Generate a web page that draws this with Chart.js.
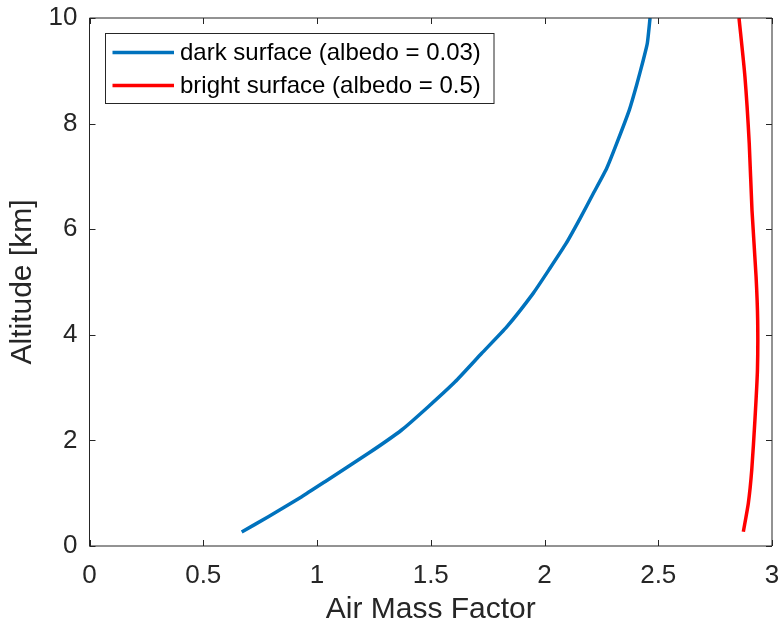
<!DOCTYPE html>
<html>
<head>
<meta charset="utf-8">
<script src="https://cdn.jsdelivr.net/npm/chart.js@4"></script>
<style>
html,body{margin:0;padding:0;background:#fff;}
#wrap{width:781px;height:625px;position:relative;}
</style>
</head>
<body>
<div id="wrap"><canvas id="c" width="781" height="625"></canvas></div>
<script>
// Data
const altDark = [0.265, 0.555, 0.934, 1.218, 1.755, 2.197, 2.638, 3.11, 3.65, 4.15, 4.79, 5.26, 5.73, 6.20, 6.68, 7.15, 7.62, 8.26, 8.73, 9.20, 9.52, 10];
const amfDark = [0.669, 0.786, 0.933, 1.035, 1.226, 1.372, 1.489, 1.607, 1.724, 1.834, 1.951, 2.024, 2.095, 2.156, 2.215, 2.273, 2.317, 2.373, 2.405, 2.434, 2.452, 2.464];
const altBright = [0.27, 0.81, 1.44, 2.39, 3.33, 4.28, 5.10, 6.36, 7.62, 8.89, 10];
const amfBright = [2.874, 2.896, 2.911, 2.925, 2.936, 2.937, 2.930, 2.912, 2.900, 2.881, 2.855];
const seriesLabels = ['dark surface (albedo = 0.03)', 'bright surface (albedo = 0.5)'];
const xTicks = [0, 0.5, 1, 1.5, 2, 2.5, 3];
const yTicks = [0, 2, 4, 6, 8, 10];

const FONT = '"Liberation Sans", Arial, Helvetica, sans-serif';
const AX = '#262626';

function pts(xs, ys){ return xs.map((x,i)=>({x:x, y:ys[i]})); }

const boxPlugin = {
  id: 'matlabBox',
  afterDraw(chart){
    const {ctx, chartArea:a, scales:{x, y}} = chart;
    ctx.save();
    ctx.strokeStyle = AX;
    ctx.lineWidth = 1;
    ctx.beginPath();
    ctx.rect(a.left, a.top, a.right - a.left, a.bottom - a.top);
    ctx.stroke();
    const tl = 6;
    ctx.beginPath();
    xTicks.forEach(v=>{
      const px = Math.round(x.getPixelForValue(v)) + 0.5;
      ctx.moveTo(px, a.bottom); ctx.lineTo(px, a.bottom - tl);
      ctx.moveTo(px, a.top); ctx.lineTo(px, a.top + tl);
    });
    yTicks.forEach(v=>{
      const py = Math.round(y.getPixelForValue(v)) + 0.5;
      ctx.moveTo(a.left, py); ctx.lineTo(a.left + tl, py);
      ctx.moveTo(a.right, py); ctx.lineTo(a.right - tl, py);
    });
    ctx.stroke();

    // legend
    const lx = 105.5, ly = 33.5, lw = 388.5, lh = 70;
    ctx.fillStyle = '#fff';
    ctx.fillRect(lx, ly, lw, lh);
    ctx.strokeStyle = AX;
    ctx.lineWidth = 1;
    ctx.strokeRect(lx, ly, lw, lh);
    const rows = [52.5, 85.5];
    chart.data.datasets.forEach((ds, i)=>{
      ctx.strokeStyle = ds.borderColor;
      ctx.lineWidth = ds.borderWidth;
      ctx.beginPath();
      ctx.moveTo(112.5, rows[i]); ctx.lineTo(174, rows[i]);
      ctx.stroke();
      ctx.fillStyle = '#000';
      ctx.font = '24px ' + FONT;
      ctx.textBaseline = 'middle';
      ctx.textAlign = 'left';
      ctx.fillText(ds.label, 180, rows[i] + 1);
    });
    ctx.restore();
  }
};

new Chart(document.getElementById('c'), {
  type: 'scatter',
  data: {
    datasets: [
      {label: seriesLabels[0], data: pts(amfDark, altDark), showLine: true, borderColor: '#0072BD', borderWidth: 3.5, pointRadius: 0, tension: 0.15, fill: false},
      {label: seriesLabels[1], data: pts(amfBright, altBright), showLine: true, borderColor: '#FF0000', borderWidth: 3.5, pointRadius: 0, tension: 0.2, fill: false}
    ]
  },
  options: {
    responsive: false,
    animation: false,
    devicePixelRatio: 1,
    layout: {padding: {left: 0, right: 9, top: 18, bottom: 0}},
    plugins: {legend: {display: false}, tooltip: {enabled: false}},
    scales: {
      x: {
        type: 'linear', min: 0, max: 3,
        afterBuildTicks(s){ s.ticks = xTicks.map(v=>({value:v})); },
        afterFit(s){ s.height = 79; s.paddingLeft = 0; s.paddingRight = 0; s.paddingTop = 0; s.paddingBottom = 0; },
        grid: {display: false, drawTicks: false},
        border: {display: false},
        ticks: {color: AX, font: {family: FONT, size: 26, lineHeight: 1}, padding: 17, maxRotation: 0, autoSkip: false, callback: v => String(v)},
        title: {display: true, text: 'Air Mass Factor', color: AX, font: {family: FONT, size: 30, lineHeight: 1}, padding: {top: 0, bottom: 0}}
      },
      y: {
        type: 'linear', min: 0, max: 10,
        afterBuildTicks(s){ s.ticks = yTicks.map(v=>({value:v})); },
        afterFit(s){ s.width = 89.5; s.paddingLeft = 0; s.paddingRight = 0; s.paddingTop = 0; s.paddingBottom = 0; },
        grid: {display: false, drawTicks: false},
        border: {display: false},
        ticks: {color: AX, font: {family: FONT, size: 26, lineHeight: 1}, padding: 12, autoSkip: false, callback: v => String(v)},
        title: {display: true, text: 'Altitude [km]', color: AX, font: {family: FONT, size: 30, lineHeight: 1}, padding: {top: 8, bottom: 0}}
      }
    }
  },
  plugins: [boxPlugin]
});
</script>
</body>
</html>
